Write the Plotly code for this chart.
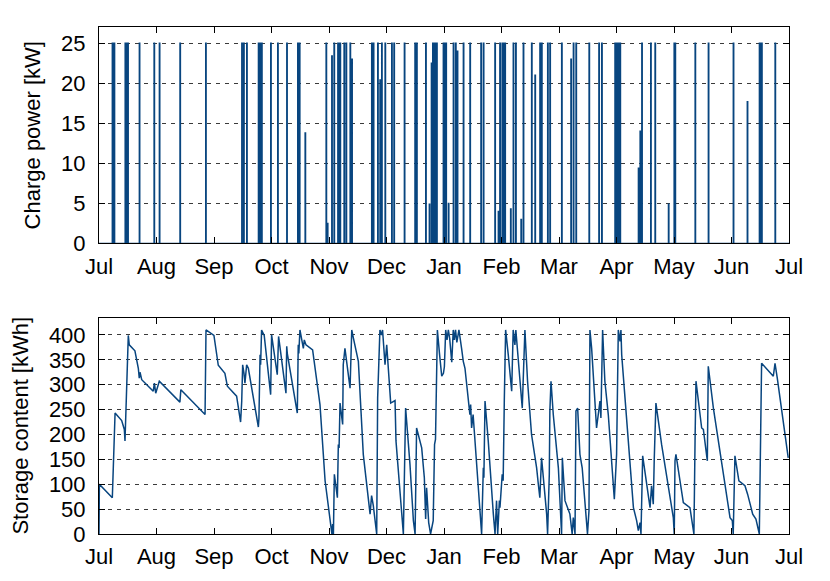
import plotly.graph_objects as go
from plotly.subplots import make_subplots

# month tick labels, one label per twelfth of the year
month_labels = ['Jul', 'Aug', 'Sep', 'Oct', 'Nov', 'Dec', 'Jan',
                'Feb', 'Mar', 'Apr', 'May', 'Jun', 'Jul']

# charging events: day of year (from 1 Jul), power in kW
charge_day = [7.0, 8.0, 13.8, 14.5, 15.2, 21.3, 29.1, 31.9, 42.8, 56.4,
              75.5, 76.5, 78.1, 84.3, 85.2, 86.0, 90.8, 94.5, 99.3, 105.1,
              106.0, 109.0, 120.1, 120.8, 123.1, 124.3, 126.3, 127.0, 127.5, 129.6,
              130.7, 132.8, 133.7, 144.2, 145.1, 147.4, 148.6, 149.5, 151.3, 154.8,
              156.0, 161.5, 167.1, 168.0, 172.8, 174.7, 175.8, 176.5, 177.2, 177.9,
              178.6, 182.1, 183.0, 183.5, 184.8, 187.4, 188.6, 189.5, 192.7, 196.2,
              202.0, 203.3, 209.4, 211.2, 212.0, 213.2, 214.0, 214.7, 217.7, 219.1,
              220.4, 223.2, 224.4, 228.8, 230.6, 233.2, 234.1, 237.3, 238.5, 244.7,
              249.6, 250.9, 252.3, 259.2, 264.4, 265.9, 272.9, 273.8, 274.7, 275.6,
              285.3, 286.2, 287.1, 291.8, 294.1, 301.2, 304.2, 304.7, 315.3, 322.3,
              335.5, 342.9, 349.3, 350.0, 350.5, 357.6]
charge_kw = [25, 25, 25, 25, 25, 25, 25, 25, 25, 25,
             25, 25, 25, 25, 25, 25, 25, 25, 25, 25,
             25, 13.8, 25, 2.5, 23.4, 25, 25, 25, 25, 25,
             25, 25, 23, 25, 25, 25, 20.4, 25, 25, 25,
             25, 25, 25, 25, 25, 4.9, 22.5, 25, 25, 25,
             25, 25, 25, 25, 5, 25, 25, 24, 25, 25,
             25, 25, 25, 4, 25, 25, 25, 25, 4.3, 25,
             25, 3, 25, 25, 21, 25, 25, 25, 25, 25,
             23, 25, 25, 25, 25, 25, 25, 25, 25, 25,
             9.4, 14, 25, 25, 25, 4.9, 25, 25, 25, 25,
             25, 17.7, 25, 25, 25, 25]
charge_len = 0.3  # days per charging block

# storage content, kWh
storage_day = [0.0, 0.2, 7.05, 7.6, 8.5, 12.0, 13.4, 13.75, 14.1, 14.6,
               15.0, 15.5, 16.0, 19.0, 20.8, 21.3, 21.7, 22.6, 28.7, 29.3,
               30.0, 31.9, 42.8, 43.3, 56.1, 56.6, 60.8, 63.1, 66.6, 67.9,
               72.8, 74.9, 75.5, 76.0, 76.7, 77.2, 78.1, 79.0, 84.3, 84.6,
               85.2, 85.5, 86.0, 87.4, 90.8, 91.3, 94.3, 95.0, 98.9, 99.3,
               99.6, 104.9, 105.4, 105.7, 106.3, 107.2, 108.1, 108.6, 109.5, 113.0,
               116.9, 119.6, 122.7, 123.2, 123.6, 124.0, 124.5, 126.1, 126.6, 127.0,
               127.5, 128.9, 129.2, 130.1, 132.8, 133.3, 133.7, 134.6, 137.2, 139.8,
               143.4, 144.2, 145.1, 146.9, 147.4, 148.6, 149.5, 150.0, 151.3, 152.2,
               154.3, 156.6, 157.1, 161.0, 161.5, 162.2, 164.5, 166.3, 167.2, 168.0,
               170.7, 172.1, 172.8, 173.3, 174.4, 175.4, 176.8, 177.5, 178.0, 179.0,
               180.1, 181.3, 182.2, 182.7, 183.4, 184.1, 184.8, 185.5, 186.6, 187.4,
               188.0, 188.6, 189.3, 190.4, 191.8, 192.7, 193.6, 196.2, 196.6, 197.1,
               197.9, 199.7, 202.0, 202.4, 203.3, 203.6, 204.2, 205.9, 208.6, 209.5,
               210.3, 210.9, 211.8, 212.1, 213.3, 213.8, 214.4, 215.1, 216.5, 218.3,
               219.1, 220.0, 220.5, 222.6, 223.9, 225.3, 226.7, 228.8, 231.5, 232.4,
               233.2, 234.1, 235.0, 236.8, 237.3, 238.2, 238.5, 239.1, 240.3, 243.0,
               244.7, 245.1, 246.5, 249.1, 250.3, 250.9, 251.8, 252.3, 253.2, 254.4,
               255.6, 257.9, 258.4, 259.2, 259.7, 260.6, 263.2, 265.0, 265.5, 266.4,
               267.6, 269.4, 272.6, 273.8, 274.7, 275.6, 276.1, 276.5, 278.2, 282.7,
               284.4, 285.3, 286.2, 286.7, 287.6, 289.7, 291.5, 292.3, 293.2, 293.7,
               294.6, 297.6, 303.8, 304.3, 304.7, 305.2, 306.5, 309.1, 312.6, 314.7,
               315.3, 315.8, 318.8, 319.7, 321.8, 322.3, 325.0, 333.8, 335.0, 335.5,
               336.4, 338.5, 341.7, 343.1, 345.8, 347.5, 349.3, 349.6, 350.5, 356.7,
               357.6, 358.8, 364.6]
storage_kwh = [0, 100, 73, 147, 243, 228, 210, 187, 230, 307,
               337, 399, 380, 368, 333, 313, 325, 310, 287, 303,
               283, 307, 265, 290, 240, 410, 399, 339, 323, 297,
               277, 225, 267, 340, 323, 303, 340, 333, 215, 232,
               360, 340, 410, 399, 280, 400, 320, 397, 283, 377,
               363, 243, 380, 363, 410, 390, 373, 390, 380, 370,
               260, 107, 13, 0, 20, 0, 120, 73, 180, 173,
               263, 220, 340, 373, 293, 380, 410, 393, 347, 160,
               40, 77, 57, 0, 273, 410, 400, 410, 340, 380,
               263, 268, 187, 0, 113, 253, 140, 27, 0, 213,
               173, 113, 30, 93, 23, 0, 27, 180, 190, 410,
               363, 317, 323, 336, 410, 390, 410, 393, 345, 410,
               390, 410, 385, 410, 373, 347, 333, 240, 260, 213,
               240, 147, 40, 0, 133, 113, 267, 187, 40, 0,
               67, 0, 67, 53, 120, 107, 267, 410, 360, 287,
               410, 380, 410, 307, 253, 410, 307, 200, 133, 100,
               73, 153, 120, 40, 0, 120, 247, 307, 240, 133,
               0, 153, 67, 40, 0, 33, 0, 247, 253, 160,
               133, 13, 0, 47, 410, 373, 213, 267, 233, 410,
               307, 240, 70, 160, 410, 387, 410, 360, 273, 53,
               27, 7, 23, 0, 157, 100, 53, 97, 60, 147,
               263, 180, 33, 0, 147, 160, 127, 63, 53, 0,
               187, 307, 213, 210, 147, 337, 253, 33, 27, 0,
               157, 107, 97, 80, 40, 30, 0, 77, 343, 317,
               343, 313, 153]

# step trace for the charge power
cx, cy = [0], [0]
for d, p in zip(charge_day, charge_kw):
    cx += [d, d, d + charge_len, d + charge_len]
    cy += [0, p, p, 0]
cx.append(365)
cy.append(0)

line_color = '#08457f'
font = dict(family='Liberation Sans', size=22, color='black')

fig = make_subplots(rows=2, cols=1, vertical_spacing=0.146)

fig.add_trace(go.Scatter(x=cx, y=cy, mode='lines',
                         line=dict(color=line_color, width=1.3)),
              row=1, col=1)
fig.add_trace(go.Scatter(x=storage_day, y=storage_kwh, mode='lines',
                         line=dict(color=line_color, width=1.5)),
              row=2, col=1)

month_pos = [i * 365 / 12 for i in range(13)]
for r in (1, 2):
    fig.update_xaxes(range=[0, 365], tickvals=month_pos, ticktext=month_labels,
                     ticks='inside', ticklen=6, tickcolor='black', showgrid=False,
                     showline=True, linecolor='black', linewidth=1, mirror='ticks',
                     zeroline=False, tickfont=font, ticklabelstandoff=3,
                     automargin=False, row=r, col=1)

fig.update_yaxes(range=[0, 27], tickvals=[0, 5, 10, 15, 20, 25],
                 title=dict(text='Charge power [kW]', font=font, standoff=14),
                 row=1, col=1)
fig.update_yaxes(range=[0, 435], tickvals=[0, 50, 100, 150, 200, 250, 300, 350, 400],
                 title=dict(text='Storage content [kWh]', font=font, standoff=15),
                 row=2, col=1)
fig.update_yaxes(ticks='inside', ticklen=6, tickcolor='black',
                 showgrid=True, gridcolor='#3a3a3a', gridwidth=1, griddash='4px,5px',
                 showline=True, linecolor='black', linewidth=1, mirror='ticks',
                 zeroline=False, tickfont=font, ticklabelstandoff=8,
                 automargin=False)

# the page body adds an 8px offset, so the figure is sized to fit the window
fig.update_layout(
    width=822, height=573,
    margin=dict(l=91, r=41, t=19, b=47),
    plot_bgcolor='white', paper_bgcolor='white',
    showlegend=False,
    font=dict(family='Liberation Sans', color='black'),
)

fig.write_html('out.html')
